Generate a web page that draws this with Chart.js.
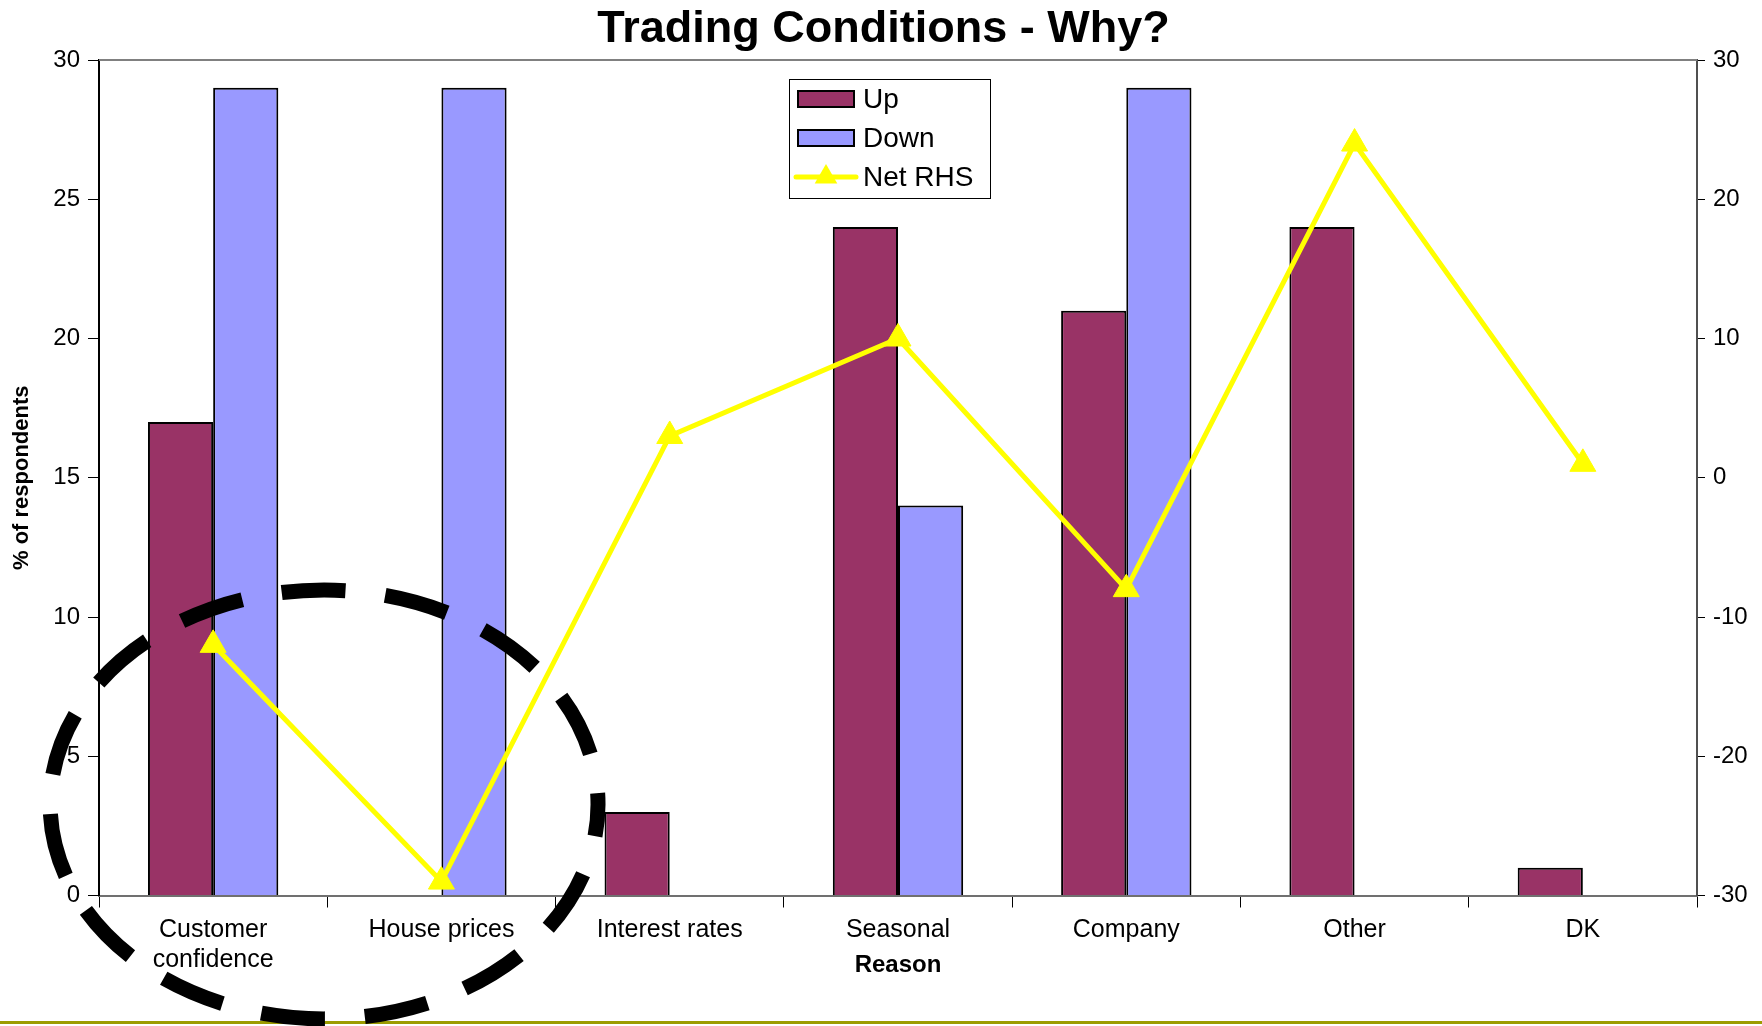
<!DOCTYPE html>
<html>
<head>
<meta charset="utf-8">
<title>Trading Conditions - Why?</title>
<script src="https://cdn.jsdelivr.net/npm/chart.js@4.4.1/dist/chart.umd.min.js"></script>
<style>
  html, body { margin: 0; padding: 0; background: #fff; }
  canvas { display: block; }
</style>
</head>
<body>
<canvas id="chart" width="1762" height="1026"></canvas>
<script>
const categories = [["Customer", "confidence"], "House prices", "Interest rates", "Seasonal", "Company", "Other", "DK"];
const upValues = [17, 0, 3, 24, 21, 24, 1];
const downValues = [29, 29, 0, 14, 29, 0, 0];
const netValues = [-12, -29, 3, 10, -8, 24, 1];
const leftTicks = [0, 5, 10, 15, 20, 25, 30];
const rightTicks = [-30, -20, -10, 0, 10, 20, 30];

Chart.defaults.font.family = "'Liberation Sans', Arial, sans-serif";
Chart.defaults.color = "#000";

// legend drawn as a box inside the plot, like the original
const boxLegend = {
  id: "boxLegend",
  afterDatasetsDraw(chart, args, opts) {
    const ctx = chart.ctx;
    ctx.save();
    ctx.fillStyle = "#fff";
    ctx.fillRect(opts.x, opts.y, opts.width, opts.height);
    ctx.strokeStyle = "#000";
    ctx.lineWidth = 1;
    ctx.strokeRect(opts.x + 0.5, opts.y + 0.5, opts.width, opts.height);
    ctx.font = opts.fontSize + "px 'Liberation Sans', Arial, sans-serif";
    ctx.textBaseline = "middle";
    chart.data.datasets.forEach((ds, i) => {
      const cy = opts.y + opts.firstRow + i * opts.rowGap;
      const sx = opts.x + opts.swatchLeft;
      if (ds.type === "line") {
        ctx.strokeStyle = ds.borderColor;
        ctx.lineWidth = ds.borderWidth;
        ctx.lineCap = "round";
        ctx.beginPath();
        ctx.moveTo(sx - 2, cy);
        ctx.lineTo(sx + opts.swatchWidth + 2, cy);
        ctx.stroke();
        ctx.fillStyle = ds.pointBackgroundColor;
        const r = 13;
        const mx = sx + opts.swatchWidth / 2;
        ctx.beginPath();
        ctx.moveTo(mx, cy - r);
        ctx.lineTo(mx + r * 0.87, cy + r * 0.5);
        ctx.lineTo(mx - r * 0.87, cy + r * 0.5);
        ctx.closePath();
        ctx.fill();
      } else {
        ctx.fillStyle = ds.backgroundColor;
        ctx.fillRect(sx, cy - 8, opts.swatchWidth, 16);
        ctx.strokeStyle = "#000";
        ctx.lineWidth = 2;
        ctx.strokeRect(sx, cy - 8, opts.swatchWidth, 16);
      }
      ctx.fillStyle = "#000";
      ctx.fillText(ds.label, opts.x + opts.textLeft, cy + 1);
    });
    ctx.restore();
  }
};

// frame pieces: grey top edge of plot, olive rule at page bottom
const frame = {
  id: "frame",
  beforeDatasetsDraw(chart) {
    const {ctx, chartArea} = chart;
    ctx.save();
    ctx.strokeStyle = "#808080";
    ctx.lineWidth = 2;
    ctx.beginPath();
    ctx.moveTo(chartArea.left, chartArea.top);
    ctx.lineTo(chartArea.right, chartArea.top);
    ctx.stroke();
    ctx.restore();
  },
  afterDraw(chart) {
    const ctx = chart.ctx;
    ctx.save();
    ctx.fillStyle = "#9c9c00";
    ctx.fillRect(0, chart.height - 5, chart.width, 3);
    ctx.restore();
  }
};

// hand-drawn style dashed ring round the first two categories
const dashedRing = {
  id: "dashedRing",
  afterDraw(chart, args, o) {
    const x = chart.scales.x, y = chart.scales.y;
    const step = x.getPixelForValue(1) - x.getPixelForValue(0);
    const cx = x.getPixelForValue(0) + o.xOffset * step;
    const cy = y.getPixelForValue(o.yValue);
    const rx = o.rx * step;
    const ry = Math.abs(y.getPixelForValue(0) - y.getPixelForValue(o.ry));
    const ctx = chart.ctx;
    ctx.save();
    ctx.strokeStyle = "#000";
    ctx.lineWidth = o.lineWidth;
    ctx.lineCap = "butt";
    ctx.setLineDash(o.dash);
    ctx.lineDashOffset = o.dash[0] / 2;
    ctx.beginPath();
    ctx.ellipse(cx, cy, rx, ry, 0, 0, Math.PI * 2);
    ctx.stroke();
    ctx.restore();
  }
};

new Chart(document.getElementById("chart"), {
  data: {
    labels: categories,
    datasets: [
      {
        type: "bar",
        label: "Up",
        data: upValues,
        backgroundColor: "#993366",
        borderColor: "#000",
        borderWidth: 2,
        yAxisID: "y",
        order: 2
      },
      {
        type: "bar",
        label: "Down",
        data: downValues,
        backgroundColor: "#9999ff",
        borderColor: "#000",
        borderWidth: 2,
        yAxisID: "y",
        order: 2
      },
      {
        type: "line",
        label: "Net RHS",
        data: netValues,
        borderColor: "#ffff00",
        borderWidth: 5,
        tension: 0,
        pointStyle: "triangle",
        pointRadius: 15,
        pointBackgroundColor: "#ffff00",
        pointBorderColor: "#ffff00",
        pointBorderWidth: 1,
        yAxisID: "y1",
        order: 1
      }
    ]
  },
  options: {
    responsive: false,
    animation: false,
    devicePixelRatio: 1,
    layout: {
      padding: { left: 5, right: 0, top: 0, bottom: 0 }
    },
    datasets: {
      bar: {
        barPercentage: 1,
        categoryPercentage: 0.571
      }
    },
    plugins: {
      legend: { display: false },
      tooltip: { enabled: false },
      title: {
        display: true,
        text: "Trading Conditions - Why?",
        color: "#000",
        font: { size: 45, weight: "bold" },
        padding: { top: 3, bottom: 3 }
      },
      boxLegend: {
        x: 789, y: 79, width: 201, height: 119,
        firstRow: 20, rowGap: 39,
        swatchLeft: 9, swatchWidth: 56, textLeft: 74,
        fontSize: 28
      },
      dashedRing: {
        xOffset: 0.486, yValue: 3.27, rx: 1.2, ry: 7.7,
        lineWidth: 15, dash: [64, 40]
      }
    },
    scales: {
      x: {
        offset: true,
        grid: {
          offset: true,
          drawOnChartArea: false,
          drawTicks: true,
          tickLength: 12,
          color: "#000",
          lineWidth: 1
        },
        border: { color: "#707070", width: 2 },
        ticks: {
          font: { size: 25 },
          padding: 8,
          maxRotation: 0,
          autoSkip: false
        },
        title: {
          display: true,
          text: "Reason",
          font: { size: 24, weight: "bold" },
          padding: { top: 46, bottom: 46 }
        },
        afterFit(scale) { scale.height = 130.5; }
      },
      y: {
        position: "left",
        min: 0,
        max: 30,
        afterBuildTicks(scale) { scale.ticks = leftTicks.map(v => ({ value: v })); },
        grid: {
          drawOnChartArea: false,
          tickLength: 11,
          color: "#000"
        },
        border: { color: "#000", width: 2 },
        ticks: { font: { size: 24 }, padding: 8 },
        title: {
          display: true,
          text: "% of respondents",
          font: { size: 22, weight: "bold" },
          padding: { top: 4, bottom: 4 }
        },
        afterFit(scale) { scale.width = 94; }
      },
      y1: {
        position: "right",
        min: -30,
        max: 30,
        afterBuildTicks(scale) { scale.ticks = rightTicks.map(v => ({ value: v })); },
        grid: {
          drawOnChartArea: false,
          tickLength: 8,
          color: "#000"
        },
        border: { color: "#505050", width: 2 },
        ticks: { font: { size: 24 }, padding: 8 },
        afterFit(scale) { scale.width = 65; }
      }
    }
  },
  plugins: [frame, boxLegend, dashedRing]
});
</script>
</body>
</html>
